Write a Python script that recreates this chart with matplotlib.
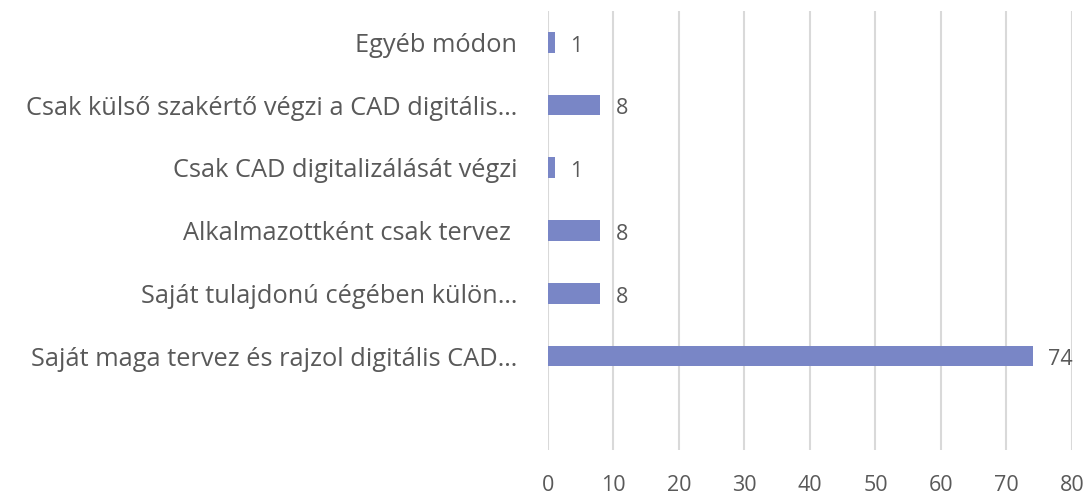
import matplotlib.pyplot as plt

categories = [
    "Egyéb módon",
    "Csak külső szakértő végzi a CAD digitális…",
    "Csak CAD digitalizálását végzi",
    "Alkalmazottként csak tervez ",
    "Saját tulajdonú cégében külön…",
    "Saját maga tervez és rajzol digitális CAD…",
]
values = [1, 8, 1, 8, 8, 74]
xticks = [0, 10, 20, 30, 40, 50, 60, 70, 80]

TEXT = "#595959"
BAR = "#7986c6"
GRID = "#d9d9d9"

plt.rcParams['font.family'] = ['Open Sans', 'DejaVu Sans']

fig = plt.figure(figsize=(10.86, 4.99), dpi=100)
ax = fig.add_axes([0.5046, 0.098, 0.4825, 0.880])

pos = list(range(len(categories)))
ax.barh(pos, values, height=0.33, color=BAR, zorder=3)
for p, v in zip(pos, values):
    ax.text(v + 2.4, p + 0.06, str(v), va="center", ha="left", fontsize=15.5, color=TEXT)

ax.set_xlim(0, 80)
ax.set_ylim(6.5, -0.5)
ax.set_xticks(xticks)
ax.set_yticks(pos)
ax.set_yticklabels(categories, fontsize=18.3, color=TEXT)
ax.tick_params(axis="x", length=0, pad=18, labelsize=15.5, labelcolor=TEXT)
ax.tick_params(axis="y", length=0, pad=22)
ax.grid(axis="x", color=GRID, linewidth=1.5, zorder=0)
for s in ax.spines.values():
    s.set_visible(False)

fig.savefig("out.png", dpi=100)
